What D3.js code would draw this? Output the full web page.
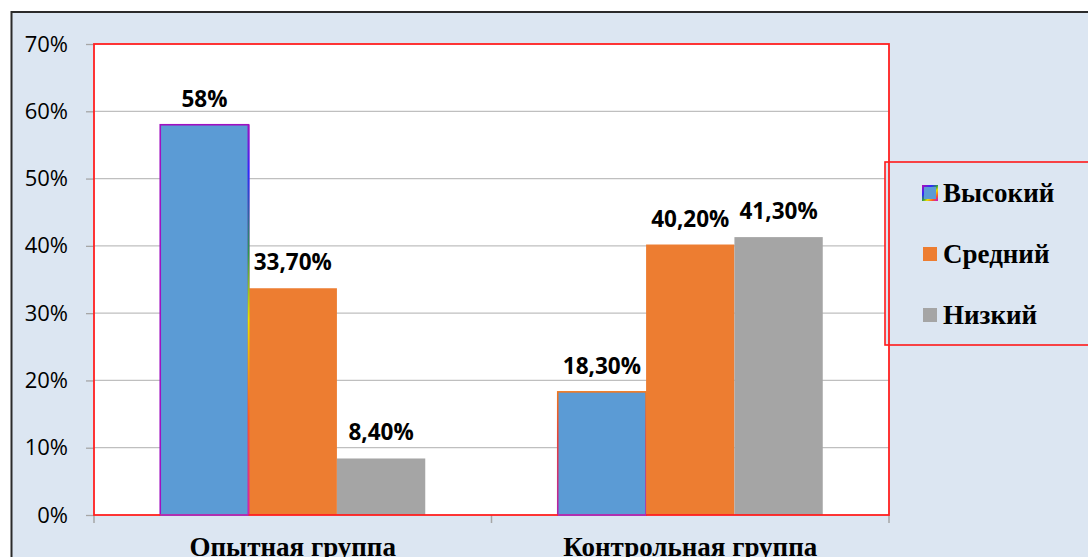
<!DOCTYPE html>
<html>
<head>
<meta charset="utf-8">
<script src="https://cdn.jsdelivr.net/npm/d3@7"></script>
<style>
  html, body { margin: 0; padding: 0; background: #ffffff; }
  svg { display: block; }
</style>
</head>
<body>
<svg id="chart" width="1088" height="557"></svg>
<script>
// ---- data ----
const categories = ["Опытная группа", "Контрольная группа"];
const seriesNames = ["Высокий", "Средний", "Низкий"];
const highValues = [58, 18.3];
const midValues = [33.7, 40.2];
const lowValues = [8.4, 41.3];
const highLabels = ["58%", "18,30%"];
const midLabels = ["33,70%", "40,20%"];
const lowLabels = ["8,40%", "41,30%"];
const yTicks = [0, 10, 20, 30, 40, 50, 60, 70];
const yTickLabels = ["0%", "10%", "20%", "30%", "40%", "50%", "60%", "70%"];

const seriesValues = [highValues, midValues, lowValues];
const seriesLabels = [highLabels, midLabels, lowLabels];
const colors = ["#5b9bd5", "#ed7d31", "#a5a5a5"];

// ---- layout ----
const svg = d3.select("#chart");
const plot = { left: 94, right: 889, top: 44, bottom: 515 };

// outer chart area
svg.append("rect")
  .attr("x", 11.5).attr("y", 12)
  .attr("width", 1100).attr("height", 600)
  .attr("fill", "#dce6f2")
  .attr("stroke", "#2b2b2b").attr("stroke-width", 2);

const x0 = d3.scaleBand().domain(categories).range([plot.left, plot.right]).padding(0);
const x1 = d3.scaleBand().domain(seriesNames).range([0, x0.bandwidth()])
  .paddingInner(0).paddingOuter(0.75);
const y = d3.scaleLinear().domain([0, 70]).range([plot.bottom, plot.top]);

// plot background
svg.append("rect")
  .attr("x", plot.left).attr("y", plot.top)
  .attr("width", plot.right - plot.left).attr("height", plot.bottom - plot.top)
  .attr("fill", "#ffffff");

// gridlines + y ticks
const yAxis = d3.axisLeft(y).tickValues(yTicks)
  .tickSize(8).tickPadding(18)
  .tickFormat((d, i) => yTickLabels[i]);
const yG = svg.append("g").attr("transform", `translate(${plot.left},0)`).call(yAxis);
yG.select(".domain").remove();
yG.selectAll(".tick line").attr("stroke", "#a6a6a6").attr("stroke-width", 1.3);
yG.selectAll(".tick text")
  .attr("font-family", "'Open Sans', sans-serif")
  .attr("font-size", 22).attr("fill", "#000");

svg.append("g").selectAll("line").data(yTicks.filter(d => d > 0 && d < 70)).join("line")
  .attr("x1", plot.left).attr("x2", plot.right)
  .attr("y1", d => y(d)).attr("y2", d => y(d))
  .attr("stroke", "#bfbfbf").attr("stroke-width", 1.3);

// x axis ticks (category boundaries)
const xBounds = [plot.left, plot.left + x0.bandwidth(), plot.right];
svg.append("g").selectAll("line").data(xBounds).join("line")
  .attr("x1", d => d).attr("x2", d => d)
  .attr("y1", plot.bottom).attr("y2", plot.bottom + 8)
  .attr("stroke", "#a6a6a6").attr("stroke-width", 1.5);

// category labels
svg.append("g").selectAll("text").data(categories).join("text")
  .attr("x", d => x0(d) + x0.bandwidth() / 2)
  .attr("y", 556)
  .attr("text-anchor", "middle")
  .attr("font-family", "'Liberation Serif', 'Times New Roman', serif")
  .attr("font-weight", "bold").attr("font-size", 27)
  .attr("fill", "#000")
  .text(d => d);

// gradients for the odd outlines of the blue bars
const defs = svg.append("defs");
const g1 = defs.append("linearGradient").attr("id", "rainbowEdge")
  .attr("gradientUnits", "userSpaceOnUse")
  .attr("x1", 0).attr("x2", 0)
  .attr("y1", y(highValues[0])).attr("y2", y(0));
[["0", "#a010c0"], ["0.12", "#2a2aff"], ["0.33", "#2e9a4a"], ["0.5", "#e6e600"], ["0.75", "#ff5a20"], ["1", "#d020b0"]]
  .forEach(([o, c]) => g1.append("stop").attr("offset", o).attr("stop-color", c));
const g2 = defs.append("linearGradient").attr("id", "warmEdge")
  .attr("x1", 0).attr("x2", 0).attr("y1", 0).attr("y2", 1);
[["0", "#f07820"], ["0.4", "#e8403a"], ["1", "#b020b0"]]
  .forEach(([o, c]) => g2.append("stop").attr("offset", o).attr("stop-color", c));
const g3 = defs.append("linearGradient").attr("id", "legendEdge")
  .attr("x1", 0).attr("x2", 1).attr("y1", 0).attr("y2", 1);
[["0", "#a010c0"], ["0.3", "#2a2aff"], ["0.5", "#2e9a4a"], ["0.65", "#e6e600"], ["0.85", "#ff5a20"], ["1", "#d020b0"]]
  .forEach(([o, c]) => g3.append("stop").attr("offset", o).attr("stop-color", c));

// bars
const barData = [];
seriesNames.forEach((s, si) => {
  categories.forEach((c, ci) => {
    barData.push({ s, si, c, ci, v: seriesValues[si][ci], label: seriesLabels[si][ci] });
  });
});

const bars = svg.append("g");
bars.selectAll("rect").data(barData).join("rect")
  .attr("x", d => x0(d.c) + x1(d.s))
  .attr("y", d => y(d.v))
  .attr("width", x1.bandwidth())
  .attr("height", d => y(0) - y(d.v))
  .attr("fill", d => colors[d.si])
  .attr("stroke", d => d.si === 0 ? (d.ci === 0 ? "#a010c0" : "url(#warmEdge)") : "none")
  .attr("stroke-width", 1.6);

// rainbow right edge on the first blue bar
const fb = barData[0];
svg.append("line")
  .attr("x1", x0(fb.c) + x1(fb.s) + x1.bandwidth())
  .attr("x2", x0(fb.c) + x1(fb.s) + x1.bandwidth())
  .attr("y1", y(fb.v)).attr("y2", y(0))
  .attr("stroke", "url(#rainbowEdge)").attr("stroke-width", 1.8);

// value labels
svg.append("g").selectAll("text").data(barData).join("text")
  .attr("x", d => x0(d.c) + x1(d.s) + x1.bandwidth() / 2)
  .attr("y", d => y(d.v) - 18)
  .attr("text-anchor", "middle")
  .attr("font-family", "'Open Sans', sans-serif")
  .attr("font-weight", "bold").attr("font-size", 22.5)
  .attr("fill", "#000")
  .text(d => d.label);

// legend
const legend = svg.append("g");
legend.append("rect")
  .attr("x", 885).attr("y", 162).attr("width", 260).attr("height", 183)
  .attr("fill", "#dce6f2").attr("stroke", "#ff1a1a").attr("stroke-width", 1.6);
const legY = d3.scalePoint().domain(seriesNames).range([202, 324]);
legend.selectAll("rect.mk").data(seriesNames).join("rect")
  .attr("class", "mk")
  .attr("x", 923).attr("y", d => legY(d) - 16)
  .attr("width", 14).attr("height", 14)
  .attr("fill", (d, i) => colors[i])
  .attr("stroke", (d, i) => i === 0 ? "url(#legendEdge)" : "none")
  .attr("stroke-width", 2);
legend.selectAll("text").data(seriesNames).join("text")
  .attr("x", 943).attr("y", d => legY(d))
  .attr("font-family", "'Liberation Serif', 'Times New Roman', serif")
  .attr("font-weight", "bold").attr("font-size", 27)
  .attr("fill", "#000")
  .text(d => d);

// plot area red border (drawn on top)
svg.append("rect")
  .attr("x", plot.left).attr("y", plot.top)
  .attr("width", plot.right - plot.left).attr("height", plot.bottom - plot.top)
  .attr("fill", "none").attr("stroke", "#ff2020").attr("stroke-width", 1.8);

// redraw blue bar bottom outlines over the red axis line, as in the reference
svg.append("g").selectAll("line").data(barData.filter(d => d.si === 0)).join("line")
  .attr("x1", d => x0(d.c) + x1(d.s)).attr("x2", d => x0(d.c) + x1(d.s) + x1.bandwidth())
  .attr("y1", y(0)).attr("y2", y(0))
  .attr("stroke", "#b030b0").attr("stroke-width", 1.8);
</script>
</body>
</html>
